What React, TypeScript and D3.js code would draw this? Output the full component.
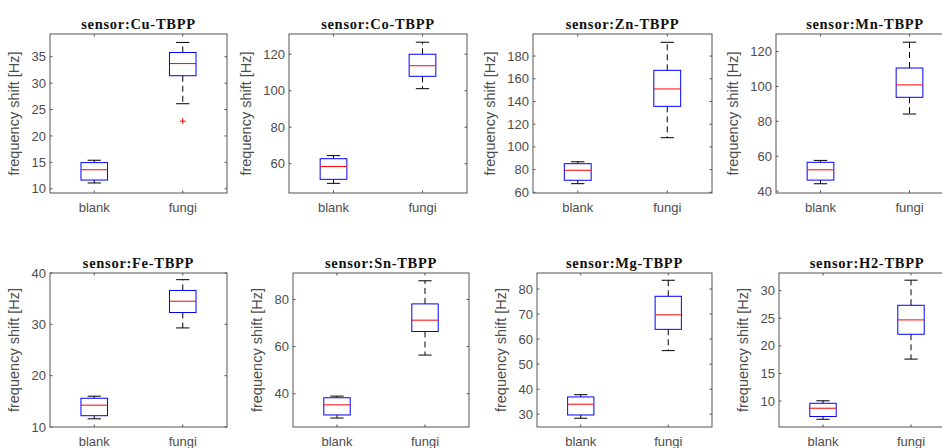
import React from "react";
import * as d3 from "d3";

// ---- data ----
const sensors = ["Cu", "Co", "Zn", "Mn", "Fe", "Sn", "Mg", "H2"];
const groups = ["blank", "fungi"];
// [lower whisker, q1, median, q3, upper whisker]
const blankStats = [
  [11.1, 11.65, 13.6, 14.95, 15.4],
  [49.2, 51.4, 58.4, 62.7, 64.4],
  [67.6, 70.6, 79.4, 85.2, 86.9],
  [44.2, 46.3, 52.2, 56.5, 57.6],
  [11.6, 12.2, 14.25, 15.6, 16.0],
  [29.7, 31.0, 35.3, 38.3, 39.0],
  [28.4, 29.7, 34.0, 36.9, 37.8],
  [6.7, 7.2, 8.7, 9.6, 10.05],
];
const fungiStats = [
  [26.1, 31.4, 33.7, 35.8, 37.7],
  [101.1, 107.9, 113.7, 120.0, 126.6],
  [108.1, 135.7, 151.0, 167.4, 192.1],
  [84.2, 93.8, 100.9, 110.6, 125.4],
  [29.3, 32.3, 34.5, 36.6, 38.7],
  [56.4, 66.4, 71.2, 78.1, 87.9],
  [55.4, 63.9, 69.7, 77.1, 83.5],
  [17.6, 22.1, 24.7, 27.35, 31.9],
];
const blankOutliers: number[][] = [[], [], [], [], [], [], [], []];
const fungiOutliers: number[][] = [[22.8], [], [], [], [], [], [], []];
const yDomains = [
  [9.2, 39.3],
  [43.9, 131.1],
  [59.4, 199.4],
  [38.9, 130.1],
  [10, 40],
  [25.9, 91.2],
  [24.9, 86.4],
  [5.3, 33.2],
];
const yTicks = [
  [10, 15, 20, 25, 30, 35],
  [60, 80, 100, 120],
  [60, 80, 100, 120, 140, 160, 180],
  [40, 60, 80, 100, 120],
  [10, 20, 30, 40],
  [40, 60, 80],
  [30, 40, 50, 60, 70, 80],
  [10, 15, 20, 25, 30],
];
const yLabel = "frequency shift [Hz]";

// ---- layout ----
const panelLeft = [50, 289, 533, 776, 50, 293, 537, 779];
const panelRight = [227, 467, 712, 954, 227, 469, 712, 955];
const rowTop = [34, 273];
const rowBottom = [193, 427];

const AXIS = "#555555";
const TEXT = "#4d4d4d";

function Panel({ i }: { i: number }) {
  const row = i < 4 ? 0 : 1;
  const left = panelLeft[i];
  const right = panelRight[i];
  const top = rowTop[row];
  const bottom = rowBottom[row];
  const x = d3.scaleLinear().domain([0.5, 2.5]).range([left, right]);
  const y = d3.scaleLinear().domain(yDomains[i]).range([bottom, top]);
  const unit = x(2) - x(1);
  const bw = unit * 0.3;
  const cw = bw / 2;
  const stats = [blankStats[i], fungiStats[i]];
  const outs = [blankOutliers[i], fungiOutliers[i]];
  const tl = 2.5;
  const cx = (left + right) / 2;
  const cy = (top + bottom) / 2;
  const labelOffset = yTicks[i].some((t) => t >= 100) ? 38.5 : 31.5;
  return (
    <g>
      <rect x={left} y={top} width={right - left} height={bottom - top} fill="white" stroke="none" />
      {stats.map((s, g) => {
        const xc = x(g + 1);
        return (
          <g key={g}>
            <line x1={xc} x2={xc} y1={y(s[3])} y2={y(s[4])} stroke="black" strokeWidth={1} strokeDasharray="6,4" />
            <line x1={xc} x2={xc} y1={y(s[1])} y2={y(s[0])} stroke="black" strokeWidth={1} strokeDasharray="6,4" />
            <line x1={xc - cw / 2} x2={xc + cw / 2} y1={y(s[4])} y2={y(s[4])} stroke="black" strokeWidth={1} />
            <line x1={xc - cw / 2} x2={xc + cw / 2} y1={y(s[0])} y2={y(s[0])} stroke="black" strokeWidth={1} />
            <rect x={xc - bw / 2} y={y(s[3])} width={bw} height={y(s[1]) - y(s[3])} fill="none" stroke="#0000ff" strokeWidth={1} />
            <line x1={xc - bw / 2} x2={xc + bw / 2} y1={y(s[2])} y2={y(s[2])} stroke="#ff0000" strokeWidth={1} />
            {outs[g].map((o, k) => (
              <g key={k} stroke="#ff0000" strokeWidth={1}>
                <line x1={xc - 3} x2={xc + 3} y1={y(o)} y2={y(o)} />
                <line x1={xc} x2={xc} y1={y(o) - 3} y2={y(o) + 3} />
              </g>
            ))}
          </g>
        );
      })}
      <rect x={left} y={top} width={right - left} height={bottom - top} fill="none" stroke={AXIS} strokeWidth={1} />
      {yTicks[i].map((t) => (
        <g key={t}>
          <line x1={left} x2={left + tl} y1={y(t)} y2={y(t)} stroke={AXIS} />
          <line x1={right} x2={right - tl} y1={y(t)} y2={y(t)} stroke={AXIS} />
          <text x={left - 4} y={y(t)} dy="0.35em" textAnchor="end" fontFamily="'Liberation Sans', Arial, sans-serif" fontSize={13} fill={TEXT}>
            {t}
          </text>
        </g>
      ))}
      {groups.map((gname, g) => (
        <g key={gname}>
          <line x1={x(g + 1)} x2={x(g + 1)} y1={bottom} y2={bottom - tl} stroke={AXIS} />
          <line x1={x(g + 1)} x2={x(g + 1)} y1={top} y2={top + tl} stroke={AXIS} />
          <text x={x(g + 1)} y={bottom + 19} textAnchor="middle" fontFamily="'Liberation Sans', Arial, sans-serif" fontSize={13} fill={TEXT}>
            {gname}
          </text>
        </g>
      ))}
      <text
        transform={`translate(${left - labelOffset},${cy}) rotate(-90)`}
        textAnchor="middle"
        fontFamily="'Liberation Sans', Arial, sans-serif"
        fontSize={14.5}
        fill={TEXT}
      >
        {yLabel}
      </text>
      <text
        x={cx}
        y={top - 5}
        textAnchor="middle"
        fontFamily="'Liberation Serif', 'DejaVu Serif', serif"
        fontWeight="bold"
        fontSize={14.5}
        letterSpacing={0.7}
        fill="#111"
      >
        {`sensor:${sensors[i]}-TBPP`}
      </text>
    </g>
  );
}

export default function App() {
  return (
    <>
      <style>{`body{margin:0;}`}</style>
      <svg width={942} height={448} style={{ display: "block", position: "absolute", left: 0, top: 0 }}>
        <rect width={942} height={448} fill="white" />
        {sensors.map((_, i) => (
          <Panel key={i} i={i} />
        ))}
      </svg>
    </>
  );
}
